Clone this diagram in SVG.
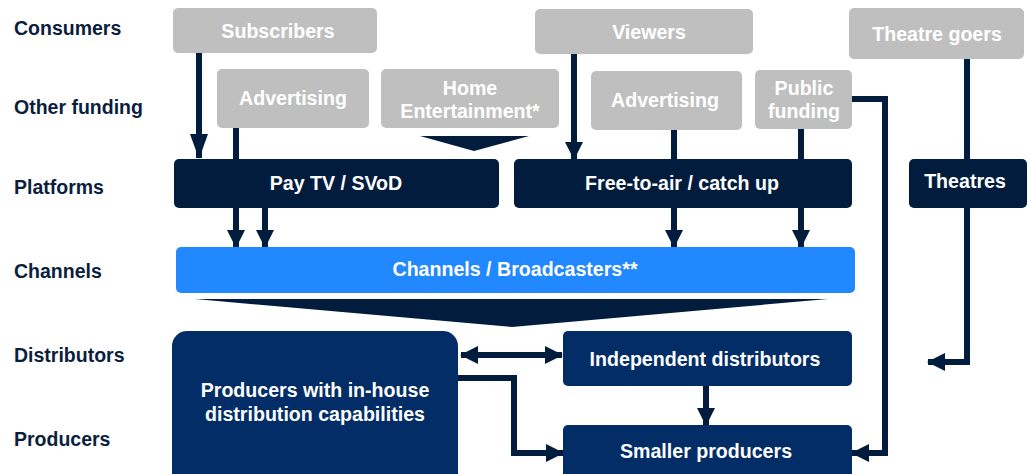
<svg xmlns="http://www.w3.org/2000/svg" width="1029" height="474" viewBox="0 0 1029 474">
  <defs>
    <style>
      .lbl { font-family: "Liberation Sans", Arial, sans-serif; font-weight: bold; font-size: 19.5px; fill: #0B1E3E; }
      .t { font-family: "Liberation Sans", Arial, sans-serif; font-weight: bold; font-size: 19.6px; fill: #FFFFFF; text-anchor: middle; }
      .grey { fill: #BFBFBF; }
      .navy { fill: #021C3D; }
      .prod { fill: #022D66; }
      .chan { fill: #2288FF; }
      .wire { fill: none; stroke: #021C3D; stroke-width: 6; stroke-linejoin: miter; }
      .head { fill: #021C3D; }
    </style>
    <marker id="arr" markerUnits="userSpaceOnUse" markerWidth="18" markerHeight="18" refX="17" refY="9" orient="auto-start-reverse" viewBox="0 0 18 18">
      <path d="M0,0 L18,9 L0,18 Z" fill="#021C3D"/>
    </marker>
    <marker id="arrL" markerUnits="userSpaceOnUse" markerWidth="25" markerHeight="18" refX="24" refY="9" orient="auto" viewBox="0 0 25 18">
      <path d="M0,0 L25,9 L0,18 Z" fill="#021C3D"/>
    </marker>
  </defs>

  <!-- row labels -->
  <g id="row-labels">
    <text class="lbl" x="14" y="35">Consumers</text>
    <text class="lbl" x="14" y="114">Other funding</text>
    <text class="lbl" x="14" y="194">Platforms</text>
    <text class="lbl" x="14" y="278">Channels</text>
    <text class="lbl" x="14" y="362">Distributors</text>
    <text class="lbl" x="14" y="446">Producers</text>
  </g>

  <!-- connectors -->
  <g id="connectors">
    <path class="wire" d="M199,53 V158" marker-end="url(#arrL)"/>
    <path class="wire" d="M236,128 V160"/>
    <path class="wire" d="M574,54 V159" marker-end="url(#arr)"/>
    <path class="wire" d="M674,130 V160"/>
    <path class="wire" d="M801,129 V160"/>
    <path class="wire" d="M967,59 V159"/>
    <path class="wire" d="M236,208 V247" marker-end="url(#arr)"/>
    <path class="wire" d="M265,208 V247" marker-end="url(#arr)"/>
    <path class="wire" d="M674,208 V247" marker-end="url(#arr)"/>
    <path class="wire" d="M801,208 V247" marker-end="url(#arr)"/>
    <polygon class="head" points="420,136 529,136 474,151"/>
    <polygon class="head" points="195,299 828,299 512,327"/>
    <path class="wire" d="M461,355 H562" marker-start="url(#arr)" marker-end="url(#arr)"/>
    <path class="wire" d="M458,378 H514 V453 H563" marker-end="url(#arr)"/>
    <path class="wire" d="M706,386 V425" marker-end="url(#arr)"/>
    <path class="wire" d="M852,99 H885 V453 H852" marker-end="url(#arr)"/>
    <path class="wire" d="M967,208 V362 H928" marker-end="url(#arr)"/>
  </g>

  <!-- consumers -->
  <g id="subscribers">
    <rect class="grey" x="173" y="8" width="204" height="45" rx="5"/>
    <text class="t" x="278" y="38">Subscribers</text>
  </g>
  <g id="viewers">
    <rect class="grey" x="535" y="9" width="218" height="45" rx="5"/>
    <text class="t" x="649" y="39">Viewers</text>
  </g>
  <g id="theatre-goers">
    <rect class="grey" x="849" y="8" width="175" height="51" rx="5"/>
    <text class="t" x="937" y="41">Theatre goers</text>
  </g>

  <!-- other funding -->
  <g id="advertising-pay">
    <rect class="grey" x="217" y="69" width="152" height="59" rx="5"/>
    <text class="t" x="293" y="105">Advertising</text>
  </g>
  <g id="home-entertainment">
    <rect class="grey" x="381" y="69" width="178" height="59" rx="5"/>
    <text class="t" x="470" y="95">Home</text>
    <text class="t" x="470" y="118">Entertainment*</text>
  </g>
  <g id="advertising-fta">
    <rect class="grey" x="591" y="71" width="151" height="59" rx="5"/>
    <text class="t" x="665" y="107">Advertising</text>
  </g>
  <g id="public-funding">
    <rect class="grey" x="755" y="70" width="97" height="59" rx="5"/>
    <text class="t" x="804" y="95">Public</text>
    <text class="t" x="804" y="118">funding</text>
  </g>

  <!-- platforms -->
  <g id="pay-tv">
    <rect class="navy" x="174" y="159" width="325" height="49" rx="5"/>
    <text class="t" x="336" y="190">Pay TV / SVoD</text>
  </g>
  <g id="free-to-air">
    <rect class="navy" x="514" y="159" width="338" height="49" rx="5"/>
    <text class="t" x="682" y="190">Free-to-air / catch up</text>
  </g>
  <g id="theatres">
    <rect class="navy" x="909" y="159" width="118" height="49" rx="5"/>
    <text class="t" x="965" y="188">Theatres</text>
  </g>

  <!-- channels -->
  <g id="channels">
    <rect class="chan" x="176" y="247" width="679" height="46" rx="5"/>
    <text class="t" x="515" y="276">Channels / Broadcasters**</text>
  </g>

  <!-- distributors and producers -->
  <g id="in-house-producers">
    <rect class="prod" x="172" y="331" width="286" height="160" rx="15"/>
    <text class="t" x="315" y="397">Producers with in-house</text>
    <text class="t" x="315" y="421">distribution capabilities</text>
  </g>
  <g id="independent-distributors">
    <rect class="prod" x="563" y="331" width="289" height="55" rx="5"/>
    <text class="t" x="705" y="366">Independent distributors</text>
  </g>
  <g id="smaller-producers">
    <rect class="prod" x="563" y="425" width="289" height="60" rx="5"/>
    <text class="t" x="706" y="458">Smaller producers</text>
  </g>
</svg>
